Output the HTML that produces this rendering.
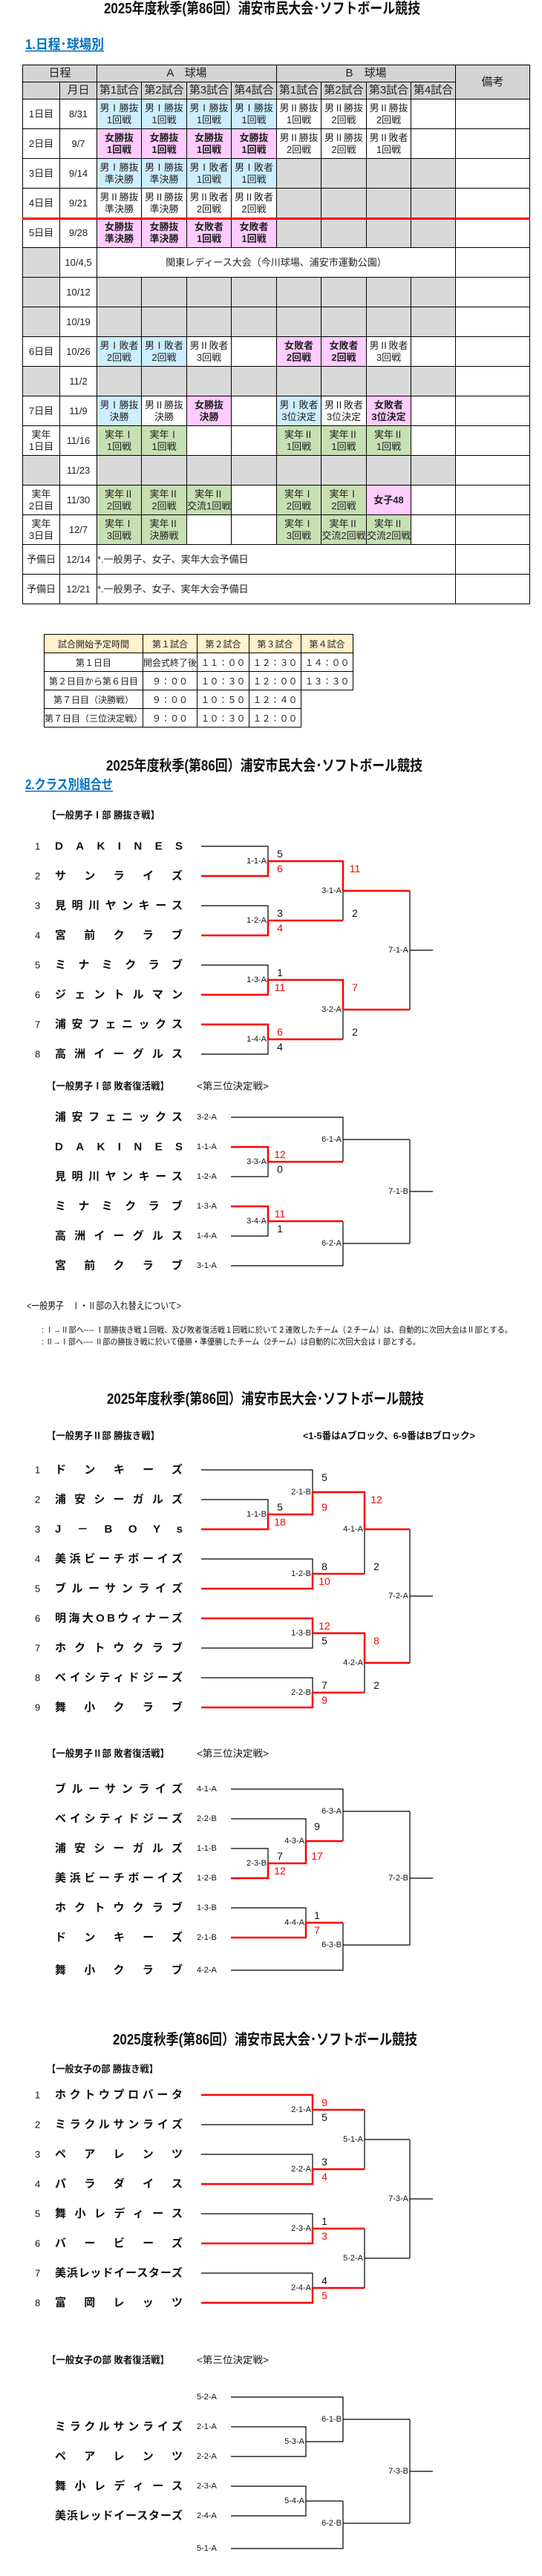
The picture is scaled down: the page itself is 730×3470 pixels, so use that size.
<!DOCTYPE html>
<html><head><meta charset="utf-8">
<style>
html,body{margin:0;padding:0;background:#fff;}
body{width:730px;height:3470px;position:relative;overflow:hidden;font-family:"Liberation Sans","Noto Sans CJK JP",sans-serif;}
table{border-collapse:collapse;table-layout:fixed;position:absolute;}
#sch{left:30px;top:87px;width:683px;}
#sch td{border:1px solid #000;text-align:center;vertical-align:middle;font-size:13px;line-height:16px;padding:0;height:39px;overflow:hidden;white-space:nowrap;color:#222;}
#sch tr.h td{background:#d4d4d4;font-size:15px;height:22px;}
.b{background:#cdeeff;}.p{background:#ffccff;font-weight:bold;}.g{background:#c6e0b4;}.x{background:#d9d9d9;}
#tm{left:59px;top:854px;}
#tm td{border:1px solid #000;height:24px;padding:0;text-align:center;font-size:12px;color:#222;white-space:nowrap;}
#tm tr.h td{background:#fff2cc;}
svg{position:absolute;left:0;top:0;}
svg text{font-family:"Liberation Sans","Noto Sans CJK JP",sans-serif;}
</style></head><body>
<table id="sch">
<colgroup><col style="width:50px"><col style="width:50px"><col style="width:60px"><col style="width:61px"><col style="width:60px"><col style="width:61px"><col style="width:60px"><col style="width:61px"><col style="width:60px"><col style="width:60px"><col style="width:100px"></colgroup>
<tr class="h"><td colspan="2">日程</td><td colspan="4">A　球場</td><td colspan="4">B　球場</td><td rowspan="2">備考</td></tr>
<tr class="h"><td></td><td>月日</td><td>第1試合</td><td>第2試合</td><td>第3試合</td><td>第4試合</td><td>第1試合</td><td>第2試合</td><td>第3試合</td><td>第4試合</td></tr>
<tr><td>1日目</td><td>8/31</td><td class="b">男Ⅰ勝抜<br>1回戦</td><td class="b">男Ⅰ勝抜<br>1回戦</td><td class="b">男Ⅰ勝抜<br>1回戦</td><td class="b">男Ⅰ勝抜<br>1回戦</td><td>男Ⅱ勝抜<br>1回戦</td><td>男Ⅱ勝抜<br>2回戦</td><td>男Ⅱ勝抜<br>2回戦</td><td></td><td></td></tr>
<tr><td>2日目</td><td>9/7</td><td class="p">女勝抜<br>1回戦</td><td class="p">女勝抜<br>1回戦</td><td class="p">女勝抜<br>1回戦</td><td class="p">女勝抜<br>1回戦</td><td>男Ⅱ勝抜<br>2回戦</td><td>男Ⅱ勝抜<br>2回戦</td><td>男Ⅱ敗者<br>1回戦</td><td></td><td></td></tr>
<tr><td>3日目</td><td>9/14</td><td class="b">男Ⅰ勝抜<br>準決勝</td><td class="b">男Ⅰ勝抜<br>準決勝</td><td class="b">男Ⅰ敗者<br>1回戦</td><td class="b">男Ⅰ敗者<br>1回戦</td><td class="x"></td><td class="x"></td><td class="x"></td><td class="x"></td><td></td></tr>
<tr><td>4日目</td><td>9/21</td><td>男Ⅱ勝抜<br>準決勝</td><td>男Ⅱ勝抜<br>準決勝</td><td>男Ⅱ敗者<br>2回戦</td><td>男Ⅱ敗者<br>2回戦</td><td class="x"></td><td class="x"></td><td class="x"></td><td class="x"></td><td></td></tr>
<tr><td>5日目</td><td>9/28</td><td class="p">女勝抜<br>準決勝</td><td class="p">女勝抜<br>準決勝</td><td class="p">女敗者<br>1回戦</td><td class="p">女敗者<br>1回戦</td><td class="x"></td><td class="x"></td><td class="x"></td><td class="x"></td><td></td></tr>
<tr><td class="x"></td><td>10/4,5</td><td colspan="8">関東レディース大会（今川球場、浦安市運動公園）</td><td></td></tr>
<tr><td class="x"></td><td>10/12</td><td class="x"></td><td class="x"></td><td class="x"></td><td class="x"></td><td class="x"></td><td class="x"></td><td class="x"></td><td class="x"></td><td></td></tr>
<tr><td class="x"></td><td>10/19</td><td class="x"></td><td class="x"></td><td class="x"></td><td class="x"></td><td class="x"></td><td class="x"></td><td class="x"></td><td class="x"></td><td></td></tr>
<tr><td>6日目</td><td>10/26</td><td class="b">男Ⅰ敗者<br>2回戦</td><td class="b">男Ⅰ敗者<br>2回戦</td><td>男Ⅱ敗者<br>3回戦</td><td></td><td class="p">女敗者<br>2回戦</td><td class="p">女敗者<br>2回戦</td><td>男Ⅱ敗者<br>3回戦</td><td></td><td></td></tr>
<tr><td class="x"></td><td>11/2</td><td class="x"></td><td class="x"></td><td class="x"></td><td class="x"></td><td class="x"></td><td class="x"></td><td class="x"></td><td class="x"></td><td></td></tr>
<tr><td>7日目</td><td>11/9</td><td class="b">男Ⅰ勝抜<br>決勝</td><td>男Ⅱ勝抜<br>決勝</td><td class="p">女勝抜<br>決勝</td><td></td><td class="b">男Ⅰ敗者<br>3位決定</td><td>男Ⅱ敗者<br>3位決定</td><td class="p">女敗者<br>3位決定</td><td></td><td></td></tr>
<tr><td>実年<br>1日目</td><td>11/16</td><td class="g">実年Ⅰ<br>1回戦</td><td class="g">実年Ⅰ<br>1回戦</td><td></td><td></td><td class="g">実年Ⅱ<br>1回戦</td><td class="g">実年Ⅱ<br>1回戦</td><td class="g">実年Ⅱ<br>1回戦</td><td></td><td></td></tr>
<tr><td class="x"></td><td>11/23</td><td class="x"></td><td class="x"></td><td class="x"></td><td class="x"></td><td class="x"></td><td class="x"></td><td class="x"></td><td class="x"></td><td></td></tr>
<tr><td>実年<br>2日目</td><td>11/30</td><td class="g">実年Ⅱ<br>2回戦</td><td class="g">実年Ⅱ<br>2回戦</td><td class="g">実年Ⅱ<br>交流1回戦</td><td></td><td class="g">実年Ⅰ<br>2回戦</td><td class="g">実年Ⅰ<br>2回戦</td><td class="p">女子48</td><td></td><td></td></tr>
<tr><td>実年<br>3日目</td><td>12/7</td><td class="g">実年Ⅰ<br>3回戦</td><td class="g">実年Ⅱ<br>決勝戦</td><td></td><td></td><td class="g">実年Ⅰ<br>3回戦</td><td class="g">実年Ⅱ<br>交流2回戦</td><td class="g">実年Ⅱ<br>交流2回戦</td><td></td><td></td></tr>
<tr><td>予備日</td><td>12/14</td><td colspan="8" style="text-align:left">*.一般男子、女子、実年大会予備日</td><td></td></tr>
<tr><td>予備日</td><td>12/21</td><td colspan="8" style="text-align:left">*.一般男子、女子、実年大会予備日</td><td></td></tr>
</table>
<div style="position:absolute;left:30px;top:293px;width:684px;height:3px;background:#f00;"></div>

<table id="tm">
<colgroup><col style="width:130px"><col style="width:70px"><col style="width:70px"><col style="width:70px"><col style="width:70px"></colgroup>
<tr class="h"><td>試合開始予定時間</td><td>第１試合</td><td>第２試合</td><td>第３試合</td><td>第４試合</td></tr>
<tr><td>第１日目</td><td>開会式終了後</td><td>１１：００</td><td>１２：３０</td><td>１４：００</td></tr>
<tr><td>第２日目から第６日目</td><td>９：００</td><td>１０：３０</td><td>１２：００</td><td>１３：３０</td></tr>
<tr><td>第７日目（決勝戦）</td><td>９：００</td><td>１０：５０</td><td>１２：４０</td><td style="border:none"></td></tr>
<tr><td>第７日目（三位決定戦）</td><td>９：００</td><td>１０：３０</td><td>１２：００</td><td style="border:none"></td></tr>
</table>

<svg width="730" height="3470" viewBox="0 0 730 3470">
<g font-weight="bold" font-size="20" fill="#111" dominant-baseline="central">
<text x="140" y="12" textLength="426" lengthAdjust="spacingAndGlyphs">2025年度秋季(第86回）浦安市民大会･ソフトボール競技</text>
<text x="143" y="1032" textLength="426" lengthAdjust="spacingAndGlyphs">2025年度秋季(第86回）浦安市民大会･ソフトボール競技</text>
<text x="144" y="1885" textLength="427" lengthAdjust="spacingAndGlyphs">2025年度秋季(第86回）浦安市民大会･ソフトボール競技</text>
<text x="152" y="2748" textLength="410" lengthAdjust="spacingAndGlyphs">2025度秋季(第86回）浦安市民大会･ソフトボール競技</text>
</g>
<g font-weight="bold" font-size="18" fill="#0070c0" dominant-baseline="central">
<text x="34" y="60" textLength="106" lengthAdjust="spacingAndGlyphs">1.日程･球場別</text>
<text x="34" y="1057" textLength="118" lengthAdjust="spacingAndGlyphs">2.クラス別組合せ</text>
</g>
<rect x="34" y="68" width="106" height="1.5" fill="#0070c0"/>
<rect x="34" y="1065" width="118" height="1.5" fill="#0070c0"/>

<g font-size="13" font-weight="bold" fill="#111" dominant-baseline="central">
<text x="63" y="1098" textLength="152" lengthAdjust="spacingAndGlyphs">【一般男子Ⅰ部 勝抜き戦】</text>
<text x="63" y="1463" textLength="165" lengthAdjust="spacingAndGlyphs">【一般男子Ⅰ部 敗者復活戦】</text>
<text x="63" y="1934" textLength="152" lengthAdjust="spacingAndGlyphs">【一般男子Ⅱ部 勝抜き戦】</text>
<text x="408" y="1934" textLength="232" lengthAdjust="spacingAndGlyphs">&lt;1-5番はAブロック、6-9番はBブロック&gt;</text>
<text x="63" y="2362" textLength="165" lengthAdjust="spacingAndGlyphs">【一般男子Ⅱ部 敗者復活戦】</text>
<text x="63" y="2787" textLength="150" lengthAdjust="spacingAndGlyphs">【一般女子の部 勝抜き戦】</text>
<text x="63" y="3179" textLength="165" lengthAdjust="spacingAndGlyphs">【一般女子の部 敗者復活戦】</text>
</g>
<g font-size="13" fill="#111" dominant-baseline="central">
<text x="265" y="1463" textLength="97" lengthAdjust="spacingAndGlyphs">&lt;第三位決定戦&gt;</text>
<text x="265" y="2362" textLength="97" lengthAdjust="spacingAndGlyphs">&lt;第三位決定戦&gt;</text>
<text x="265" y="3179" textLength="97" lengthAdjust="spacingAndGlyphs">&lt;第三位決定戦&gt;</text>
<text x="36" y="1759" textLength="208" lengthAdjust="spacingAndGlyphs">&lt;一般男子　Ⅰ・Ⅱ部の入れ替えについて&gt;</text>
</g>
<g font-size="11" fill="#111" dominant-baseline="central">
<text x="56" y="1792" textLength="634" lengthAdjust="spacingAndGlyphs">: Ⅰ→Ⅱ部へ---- Ⅰ部勝抜き戦１回戦、及び敗者復活戦１回戦に於いて２連敗したチーム（２チーム）は、自動的に次回大会はⅡ部とする。</text>
<text x="56" y="1808" textLength="510" lengthAdjust="spacingAndGlyphs">: Ⅱ→Ⅰ部へ---- Ⅱ部の勝抜き戦に於いて優勝・準優勝したチーム（2チーム）は自動的に次回大会はⅠ部とする。</text>
</g>

<!-- team names -->
<g font-size="15" font-weight="bold" fill="#111" dominant-baseline="central">
<text x="74" y="1140" textLength="172" lengthAdjust="spacing">DAKINES</text>
<text x="74" y="1180" textLength="172" lengthAdjust="spacing">サンライズ</text>
<text x="74" y="1220" textLength="172" lengthAdjust="spacing">見明川ヤンキース</text>
<text x="74" y="1260" textLength="172" lengthAdjust="spacing">宮前クラブ</text>
<text x="74" y="1300" textLength="172" lengthAdjust="spacing">ミナミクラブ</text>
<text x="74" y="1340" textLength="172" lengthAdjust="spacing">ジェントルマン</text>
<text x="74" y="1380" textLength="172" lengthAdjust="spacing">浦安フェニックス</text>
<text x="74" y="1420" textLength="172" lengthAdjust="spacing">高洲イーグルス</text>

<text x="74" y="1505" textLength="172" lengthAdjust="spacing">浦安フェニックス</text>
<text x="74" y="1545" textLength="172" lengthAdjust="spacing">DAKINES</text>
<text x="74" y="1585" textLength="172" lengthAdjust="spacing">見明川ヤンキース</text>
<text x="74" y="1625" textLength="172" lengthAdjust="spacing">ミナミクラブ</text>
<text x="74" y="1665" textLength="172" lengthAdjust="spacing">高洲イーグルス</text>
<text x="74" y="1705" textLength="172" lengthAdjust="spacing">宮前クラブ</text>

<text x="74" y="1980" textLength="172" lengthAdjust="spacing">ドンキーズ</text>
<text x="74" y="2020" textLength="172" lengthAdjust="spacing">浦安シーガルズ</text>
<text x="74" y="2060" textLength="172" lengthAdjust="spacing">J－BOYs</text>
<text x="74" y="2100" textLength="172" lengthAdjust="spacing">美浜ビーチボーイズ</text>
<text x="74" y="2140" textLength="172" lengthAdjust="spacing">ブルーサンライズ</text>
<text x="74" y="2180" textLength="172" lengthAdjust="spacing">明海大OBウィナーズ</text>
<text x="74" y="2220" textLength="172" lengthAdjust="spacing">ホクトウクラブ</text>
<text x="74" y="2260" textLength="172" lengthAdjust="spacing">ベイシティドジーズ</text>
<text x="74" y="2300" textLength="172" lengthAdjust="spacing">舞小クラブ</text>

<text x="74" y="2410" textLength="172" lengthAdjust="spacing">ブルーサンライズ</text>
<text x="74" y="2450" textLength="172" lengthAdjust="spacing">ベイシティドジーズ</text>
<text x="74" y="2490" textLength="172" lengthAdjust="spacing">浦安シーガルズ</text>
<text x="74" y="2530" textLength="172" lengthAdjust="spacing">美浜ビーチボーイズ</text>
<text x="74" y="2570" textLength="172" lengthAdjust="spacing">ホクトウクラブ</text>
<text x="74" y="2610" textLength="172" lengthAdjust="spacing">ドンキーズ</text>
<text x="74" y="2654" textLength="172" lengthAdjust="spacing">舞小クラブ</text>

<text x="74" y="2822" textLength="172" lengthAdjust="spacing">ホクトウプロバータ</text>
<text x="74" y="2862" textLength="172" lengthAdjust="spacing">ミラクルサンライズ</text>
<text x="74" y="2902" textLength="172" lengthAdjust="spacing">ペアレンツ</text>
<text x="74" y="2942" textLength="172" lengthAdjust="spacing">パラダイス</text>
<text x="74" y="2982" textLength="172" lengthAdjust="spacing">舞小レディース</text>
<text x="74" y="3022" textLength="172" lengthAdjust="spacing">バービーズ</text>
<text x="74" y="3062" textLength="172" lengthAdjust="spacing">美浜レッドイースターズ</text>
<text x="74" y="3102" textLength="172" lengthAdjust="spacing">富岡レッツ</text>

<text x="74" y="3269" textLength="172" lengthAdjust="spacing">ミラクルサンライズ</text>
<text x="74" y="3309" textLength="172" lengthAdjust="spacing">ペアレンツ</text>
<text x="74" y="3349" textLength="172" lengthAdjust="spacing">舞小レディース</text>
<text x="74" y="3389" textLength="172" lengthAdjust="spacing">美浜レッドイースターズ</text>
</g>
<!-- seed numbers -->
<g font-size="13" fill="#111" dominant-baseline="central">
<text x="47" y="1140">1</text><text x="47" y="1180">2</text><text x="47" y="1220">3</text><text x="47" y="1260">4</text><text x="47" y="1300">5</text><text x="47" y="1340">6</text><text x="47" y="1380">7</text><text x="47" y="1420">8</text>
<text x="47" y="1980">1</text><text x="47" y="2020">2</text><text x="47" y="2060">3</text><text x="47" y="2100">4</text><text x="47" y="2140">5</text><text x="47" y="2180">6</text><text x="47" y="2220">7</text><text x="47" y="2260">8</text><text x="47" y="2300">9</text>
<text x="47" y="2822">1</text><text x="47" y="2862">2</text><text x="47" y="2902">3</text><text x="47" y="2942">4</text><text x="47" y="2982">5</text><text x="47" y="3022">6</text><text x="47" y="3062">7</text><text x="47" y="3102">8</text>
</g>
<!-- match labels -->
<g font-size="11" fill="#111" dominant-baseline="central" text-anchor="end">
<text x="359" y="1160">1-1-A</text><text x="359" y="1240">1-2-A</text><text x="359" y="1320">1-3-A</text><text x="359" y="1400">1-4-A</text>
<text x="460" y="1200">3-1-A</text><text x="460" y="1360">3-2-A</text><text x="550" y="1280">7-1-A</text>
<text x="359" y="1565">3-3-A</text><text x="359" y="1645">3-4-A</text><text x="460" y="1535">6-1-A</text><text x="460" y="1675">6-2-A</text><text x="550" y="1605">7-1-B</text>
<text x="359" y="2040">1-1-B</text><text x="419" y="2010">2-1-B</text><text x="419" y="2120">1-2-B</text><text x="419" y="2200">1-3-B</text><text x="419" y="2280">2-2-B</text>
<text x="489" y="2060">4-1-A</text><text x="489" y="2240">4-2-A</text><text x="550" y="2150">7-2-A</text>
<text x="359" y="2510">2-3-B</text><text x="410" y="2480">4-3-A</text><text x="410" y="2590">4-4-A</text><text x="460" y="2440">6-3-A</text><text x="460" y="2620">6-3-B</text><text x="550" y="2530">7-2-B</text>
<text x="419" y="2842">2-1-A</text><text x="419" y="2922">2-2-A</text><text x="419" y="3002">2-3-A</text><text x="419" y="3082">2-4-A</text>
<text x="489" y="2882">5-1-A</text><text x="489" y="3042">5-2-A</text><text x="550" y="2962">7-3-A</text>
<text x="410" y="3289">5-3-A</text><text x="410" y="3369">5-4-A</text><text x="460" y="3259">6-1-B</text><text x="460" y="3399">6-2-B</text><text x="550" y="3329">7-3-B</text>
</g>
<!-- seed codes for loser brackets -->
<g font-size="11" fill="#111" dominant-baseline="central">
<text x="265" y="1505">3-2-A</text><text x="265" y="1545">1-1-A</text><text x="265" y="1585">1-2-A</text><text x="265" y="1625">1-3-A</text><text x="265" y="1665">1-4-A</text><text x="265" y="1705">3-1-A</text>
<text x="265" y="2410">4-1-A</text><text x="265" y="2450">2-2-B</text><text x="265" y="2490">1-1-B</text><text x="265" y="2530">1-2-B</text><text x="265" y="2570">1-3-B</text><text x="265" y="2610">2-1-B</text><text x="265" y="2654">4-2-A</text>
<text x="265" y="3229">5-2-A</text><text x="265" y="3269">2-1-A</text><text x="265" y="3309">2-2-A</text><text x="265" y="3349">2-3-A</text><text x="265" y="3389">2-4-A</text><text x="265" y="3433">5-1-A</text>
</g>
<!-- scores -->
<g font-size="14" dominant-baseline="central" text-anchor="middle" fill="#111">
<text x="377" y="1150">5</text><text x="377" y="1170" fill="#f00">6</text>
<text x="377" y="1230">3</text><text x="377" y="1250" fill="#f00">4</text>
<text x="377" y="1310">1</text><text x="377" y="1330" fill="#f00">11</text>
<text x="377" y="1390" fill="#f00">6</text><text x="377" y="1410">4</text>
<text x="478" y="1170" fill="#f00">11</text><text x="478" y="1230">2</text>
<text x="478" y="1330" fill="#f00">7</text><text x="478" y="1390">2</text>
<text x="377" y="1555" fill="#f00">12</text><text x="377" y="1575">0</text>
<text x="377" y="1635" fill="#f00">11</text><text x="377" y="1655">1</text>
<text x="377" y="2030">5</text><text x="377" y="2050" fill="#f00">18</text>
<text x="437" y="1990">5</text><text x="437" y="2030" fill="#f00">9</text>
<text x="437" y="2110">8</text><text x="437" y="2130" fill="#f00">10</text>
<text x="437" y="2190" fill="#f00">12</text><text x="437" y="2210">5</text>
<text x="437" y="2270">7</text><text x="437" y="2290" fill="#f00">9</text>
<text x="507" y="2020" fill="#f00">12</text><text x="507" y="2110">2</text>
<text x="507" y="2210" fill="#f00">8</text><text x="507" y="2270">2</text>
<text x="377" y="2500">7</text><text x="377" y="2520" fill="#f00">12</text>
<text x="427" y="2460">9</text><text x="427" y="2500" fill="#f00">17</text>
<text x="427" y="2580">1</text><text x="427" y="2600" fill="#f00">7</text>
<text x="437" y="2832" fill="#f00">9</text><text x="437" y="2852">5</text>
<text x="437" y="2912">3</text><text x="437" y="2932" fill="#f00">4</text>
<text x="437" y="2992">1</text><text x="437" y="3012" fill="#f00">3</text>
<text x="437" y="3072">4</text><text x="437" y="3092" fill="#f00">5</text>
</g>
<!-- black lines -->
<g stroke="#000" stroke-width="1.2" fill="none">
<path d="M271 1140H361V1160 M271 1220H361V1240 M271 1300H361V1320 M361 1400V1420H271 M462 1200V1240 M462 1360V1400 M552 1200V1360 M552 1280H583"/>
<path d="M311 1505H462V1565 M462 1535H552 M311 1585H361V1565 M311 1665H361V1645 M311 1705H462V1645 M462 1675H552 M552 1535V1675 M552 1605H583"/>
<path d="M271 1980H421V2010 M271 2020H361V2040 M271 2100H421V2120 M271 2220H421V2200 M271 2260H421V2280 M491 2060V2120 M491 2240V2280 M552 2060V2240 M552 2150H583"/>
<path d="M311 2410H462V2480 M462 2440H552 M311 2450H412V2480 M311 2490H361V2510 M311 2570H412V2590 M311 2654H462V2590 M462 2620H552 M552 2440V2620 M552 2530H583"/>
<path d="M271 2862H421V2842 M271 2902H421V2922 M491 2842V2922 M491 2882H552 M271 2982H421V3002 M271 3062H421V3082 M491 3002V3082 M491 3042H552 M552 2882V3042 M552 2962H583"/>
<path d="M311 3229H462V3289 M462 3259H552 M311 3269H412V3309H311 M412 3289H462 M311 3349H412V3389H311 M412 3369H462 M311 3433H462V3369 M462 3399H552 M552 3259V3399 M552 3329H583"/>
</g>
<!-- red lines -->
<g stroke="#f00" stroke-width="2.5" fill="none">
<path d="M271 1180H361V1160H462V1200H552"/>
<path d="M271 1260H361V1240H462"/>
<path d="M271 1340H361V1320H462V1360H552"/>
<path d="M271 1380H361V1400H462"/>
<path d="M311 1545H361V1565H462"/>
<path d="M311 1625H361V1645H462"/>
<path d="M271 2060H361V2040H421V2010H491V2060H552"/>
<path d="M271 2140H421V2120H491"/>
<path d="M271 2180H421V2200H491V2240H552"/>
<path d="M271 2300H421V2280H491"/>
<path d="M311 2530H361V2510H412V2480H462"/>
<path d="M311 2610H412V2590H462"/>
<path d="M271 2822H421V2842H491"/>
<path d="M271 2942H421V2922H491"/>
<path d="M271 3022H421V3002H491"/>
<path d="M271 3102H421V3082H491"/>
</g>
</svg>
</body></html>
